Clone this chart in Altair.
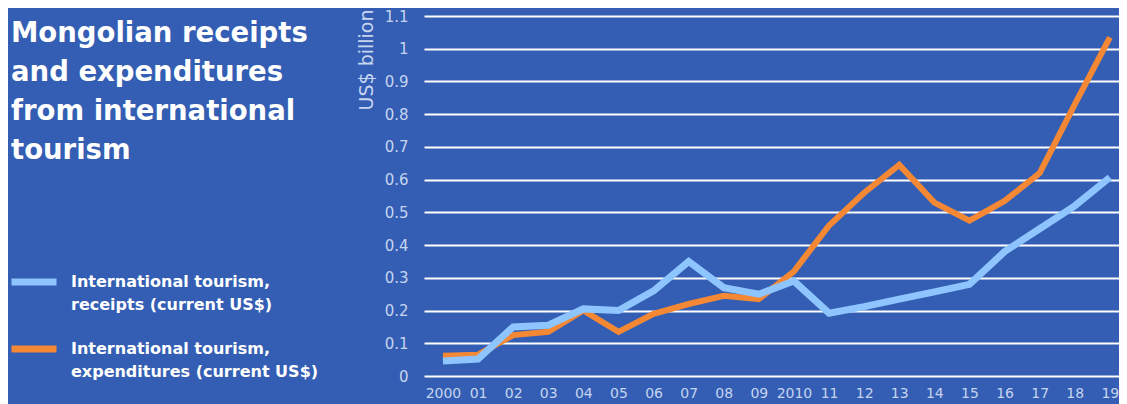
import altair as alt
import pandas as pd

years = list(range(2000, 2020))
receipts = [0.046, 0.052, 0.150, 0.155, 0.205, 0.200, 0.260, 0.350, 0.270, 0.250,
            0.290, 0.192, 0.212, 0.235, 0.257, 0.280, 0.380, 0.450, 0.520, 0.607]
expenditures = [0.062, 0.065, 0.125, 0.135, 0.200, 0.135, 0.190, 0.220, 0.245, 0.235,
                0.320, 0.460, 0.560, 0.645, 0.530, 0.475, 0.535, 0.620, 0.830, 1.035]
series_names = ["International tourism, receipts (current US$)",
                "International tourism, expenditures (current US$)"]
series_colors = ["#8FC5FF", "#F48834"]
y_ticks = [0, 0.1, 0.2, 0.3, 0.4, 0.5, 0.6, 0.7, 0.8, 0.9, 1.0, 1.1]
title_lines = ["Mongolian receipts", "and expenditures", "from international", "tourism"]

rows = []
for y, r, e in zip(years, receipts, expenditures):
    rows.append({"year": y, "value": r, "series": series_names[0]})
    rows.append({"year": y, "value": e, "series": series_names[1]})
df = pd.DataFrame(rows)

BG = "#335EB3"
LABEL = "#C6D4F0"

color = alt.Color(
    "series:N",
    scale=alt.Scale(domain=series_names, range=series_colors),
    legend=alt.Legend(
        title=None, orient="none", legendX=-416, legendY=240,
        symbolType="stroke", symbolSize=2025, symbolStrokeWidth=7,
        labelExpr="[slice(datum.label, 0, 22), slice(datum.label, 23)]",
        labelFont="DejaVu Sans", labelFontWeight="bold", labelFontSize=16,
        labelColor="white", labelLimit=400, labelOffset=11, labelBaseline="middle",
        rowPadding=10, direction="vertical",
    ),
)

x = alt.X("year:Q", scale=alt.Scale(domain=[1999.46, 2019.26], nice=False, zero=False),
          axis=alt.Axis(values=years, title=None, grid=False, domain=False, ticks=False,
                        labelExpr="datum.value == 2000 || datum.value == 2010 ? toString(datum.value) : slice(toString(datum.value), 2, 4)",
                        labelColor=LABEL, labelFont="DejaVu Sans", labelFontSize=14,
                        labelPadding=10, labelFlush=False))
y = alt.Y("value:Q", scale=alt.Scale(domain=[0, 1.1], nice=False),
          axis=alt.Axis(values=y_ticks, format=".1~f", title="US$ billion",
                        titleAngle=-90, titleAlign="right", titleBaseline="middle",
                        titleX=-58, titleY=-7, titleFont="DejaVu Sans",
                        titleFontWeight="normal", titleFontSize=19, titleColor=LABEL,
                        grid=True, gridColor="white", gridWidth=2, domain=False,
                        ticks=False, labelColor=LABEL, labelFont="DejaVu Sans",
                        labelFontSize=15, labelPadding=16))

base = alt.Chart(df)
exp_line = base.transform_filter(alt.datum.series == series_names[1]).mark_line(
    strokeWidth=6).encode(x=x, y=y, color=color)
rec_line = base.transform_filter(alt.datum.series == series_names[0]).mark_line(
    strokeWidth=7).encode(x=x, y=y, color=color)

title_df = pd.DataFrame({"t": [0]})
title = alt.Chart(title_df).mark_text(
    text=title_lines, align="left", baseline="alphabetic", font="DejaVu Sans",
    fontWeight="bold", fontSize=27.5, lineHeight=39, color="white",
).encode(x=alt.value(-413), y=alt.value(26))

chart = alt.layer(exp_line, rec_line, title).properties(
    width=695, height=360, background=BG,
    autosize=alt.AutoSizeParams(type="none"),
    padding={"left": 416, "top": 8, "right": 0, "bottom": 28},
).configure(style={"guide-label": {"lineHeight": 23}}).configure_view(strokeWidth=0)

chart.save("out.html", embed_options={"renderer": "svg", "actions": False})
